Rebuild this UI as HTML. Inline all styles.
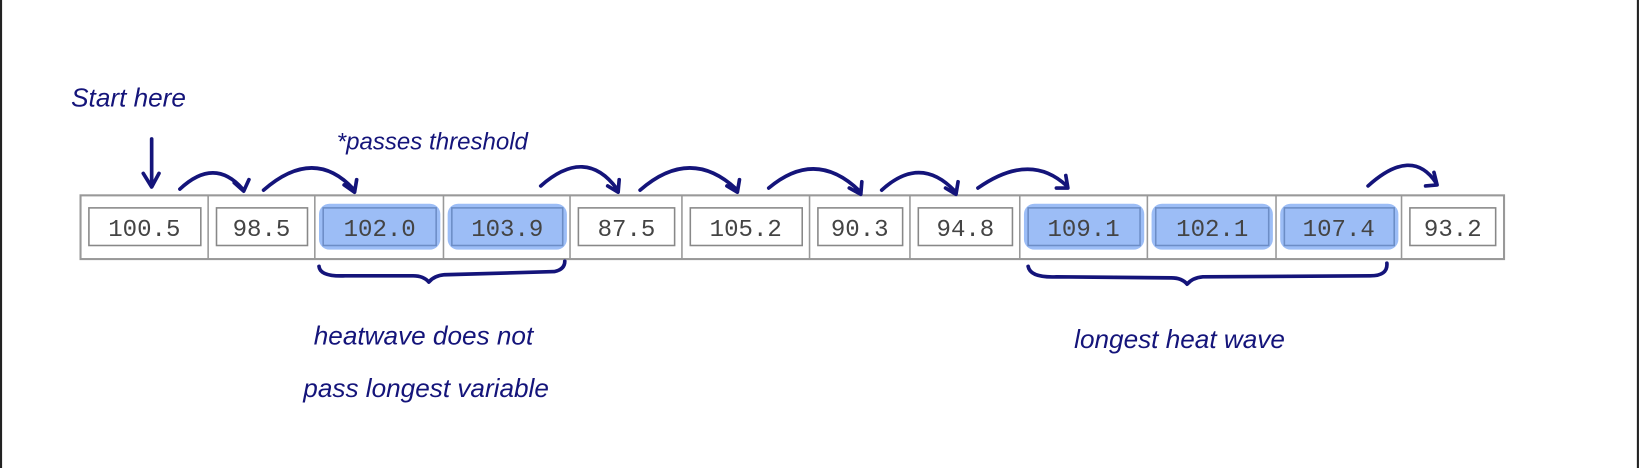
<!DOCTYPE html>
<html><head><style>
html,body{margin:0;padding:0;background:#fff;}
svg{display:block;}
</style></head><body>
<svg width="1640" height="468" viewBox="0 0 1568 448" preserveAspectRatio="none" xmlns="http://www.w3.org/2000/svg">
<rect x="0" y="0" width="1568" height="448" fill="#fff"/>
<line x1="1" y1="0" x2="1" y2="448" stroke="#222" stroke-width="2"/>
<line x1="1566" y1="0" x2="1566" y2="448" stroke="#222" stroke-width="2"/>
<g font-family="Liberation Mono, monospace" font-size="23" fill="#444" stroke="none">
<rect x="77" y="187" width="1361" height="61" fill="#fff" stroke="#999" stroke-width="2"/>
<g stroke="#999" stroke-width="1.5">
<line x1="199" y1="187" x2="199" y2="248"/><line x1="301" y1="187" x2="301" y2="248"/>
<line x1="424" y1="187" x2="424" y2="248"/><line x1="545" y1="187" x2="545" y2="248"/>
<line x1="652" y1="187" x2="652" y2="248"/><line x1="774" y1="187" x2="774" y2="248"/>
<line x1="870" y1="187" x2="870" y2="248"/><line x1="975" y1="187" x2="975" y2="248"/>
<line x1="1097" y1="187" x2="1097" y2="248"/><line x1="1220" y1="187" x2="1220" y2="248"/>
<line x1="1340" y1="187" x2="1340" y2="248"/>
</g>
<g fill="none" stroke="#888" stroke-width="1.5">
<rect x="85" y="199" width="107" height="36"/><rect x="207" y="199" width="87" height="36"/>
<rect x="309" y="199" width="108" height="36"/><rect x="432" y="199" width="106" height="36"/>
<rect x="553" y="199" width="92" height="36"/><rect x="660" y="199" width="107" height="36"/>
<rect x="782" y="199" width="81" height="36"/><rect x="878" y="199" width="90" height="36"/>
<rect x="983" y="199" width="107" height="36"/><rect x="1105" y="199" width="108" height="36"/>
<rect x="1228" y="199" width="105" height="36"/><rect x="1348" y="199" width="82" height="36"/>
</g>
<g fill="rgba(90,145,240,0.6)">
<rect x="305" y="195" width="116" height="44" rx="10"/><rect x="428" y="195" width="114" height="44" rx="10"/>
<rect x="979" y="195" width="115" height="44" rx="10"/><rect x="1101" y="195" width="116" height="44" rx="10"/>
<rect x="1224" y="195" width="113" height="44" rx="10"/>
</g>
<g text-anchor="middle">
<text x="138" y="226">100.5</text><text x="250" y="226">98.5</text>
<text x="363" y="226">102.0</text><text x="485" y="226">103.9</text>
<text x="599" y="226">87.5</text><text x="713" y="226">105.2</text>
<text x="822" y="226">90.3</text><text x="923" y="226">94.8</text>
<text x="1036" y="226">109.1</text><text x="1159" y="226">102.1</text>
<text x="1280" y="226">107.4</text><text x="1389" y="226">93.2</text>
</g>
</g>
<g fill="none" stroke="#14147a" stroke-width="3.5" stroke-linecap="round" stroke-linejoin="round">
<path d="M145 133 L145 178 M137 166 L145 179 L152 166"/>
<path d="M172 181 Q205 150 232 181 M224 175 L233 183 L238 172"/>
<path d="M252 182 Q300 140 338 181 M329 177 L339 184 L341 172"/>
<path d="M517 178 Q560 140 590 181 M581 178 L591 184 L592 172"/>
<path d="M612 182 Q660 140 704 181 M695 178 L705 184 L707 172"/>
<path d="M735 180 Q780 142 822 183 M812 180 L823 186 L824 174"/>
<path d="M843 182 Q880 148 913 183 M904 180 L914 186 L916 174"/>
<path d="M935 180 Q985 145 1020 178 M1010 180 L1021 180 L1019 168"/>
<path d="M1308 178 Q1350 140 1373 175 M1363 178 L1374 177 L1371 165"/>
<path d="M305 255 Q306 265 330 264 L395 264 Q405 264 410 270 Q415 264 425 263 L530 260 Q540 258 540 250"/>
<path d="M983 255 Q985 266 1010 265 L1120 266 Q1130 266 1135 272 Q1140 266 1150 265 L1310 264 Q1327 264 1326 252"/>
</g>
<g font-family="Liberation Sans, sans-serif" font-style="italic" fill="#14147a">
<text x="68" y="102" font-size="25">Start here</text>
<text x="322" y="143" font-size="23">*passes threshold</text>
<text x="300" y="330" font-size="25">heatwave does not</text>
<text x="290" y="380" font-size="25">pass longest variable</text>
<text x="1027" y="333" font-size="25">longest heat wave</text>
</g>
</svg>
</body></html>
